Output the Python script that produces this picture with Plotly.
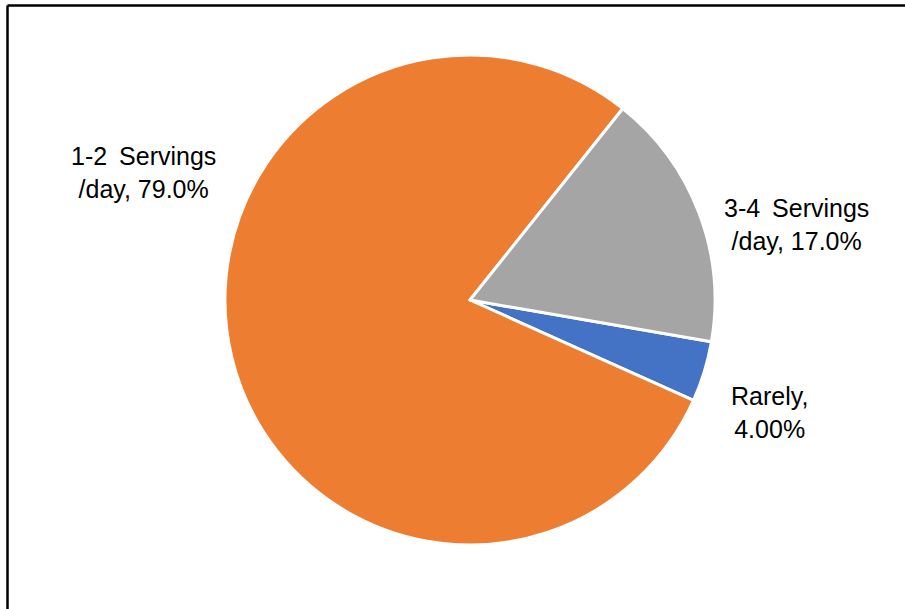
import plotly.graph_objects as go

# ---- data ----
categories = ["Rarely", "1-2 Servings /day", "3-4 Servings /day"]
values = [4.0, 79.0, 17.0]
colors = ["#4472C4", "#ED7D31", "#A5A5A5"]

# label anchor positions (paper coords) for the outside labels
label_pos = {
    "Rarely": (769 / 905, 1 - 413 / 609),
    "1-2 Servings /day": (143 / 905, 1 - 172 / 609),
    "3-4 Servings /day": (796 / 905, 1 - 224 / 609),
}

W, H = 905, 609
cx, cy, r = 470, 300, 245

fig = go.Figure(
    go.Pie(
        labels=categories,
        values=values,
        sort=False,
        direction="clockwise",
        rotation=99.8,
        marker=dict(colors=colors, line=dict(color="white", width=3)),
        textinfo="none",
        hoverinfo="label+percent",
        showlegend=False,
        domain=dict(x=[(cx - r) / W, (cx + r) / W], y=[1 - (cy + r) / H, 1 - (cy - r) / H]),
    )
)

total = sum(values)


def wrap(label, pct):
    if " /" in label:
        a, b = label.split(" /", 1)
        a = a.replace(" ", "\u2009 ")
        return f"{a}<br>/{b}, {pct}%"
    return f"{label},<br>{pct}%"


annotations = []
for lab, v in zip(categories, values):
    pct = format(100 * v / total, "#.3g")
    x, y = label_pos[lab]
    annotations.append(
        dict(
            x=x, y=y, xref="paper", yref="paper",
            text=wrap(lab, pct), showarrow=False,
            xanchor="center", yanchor="middle", align="center",
            font=dict(family="Liberation Sans, Arial, sans-serif", size=25, color="#000000"),
        )
    )

shapes = [
    dict(type="line", xref="paper", yref="paper", x0=7.5 / W, x1=1.0, y0=1 - 5.5 / H, y1=1 - 5.5 / H,
         line=dict(color="#000000", width=2.5)),
    dict(type="line", xref="paper", yref="paper", x0=7.5 / W, x1=7.5 / W, y0=0, y1=1 - 5.5 / H,
         line=dict(color="#000000", width=2.5)),
]

fig.update_layout(
    width=W, height=H,
    margin=dict(l=0, r=0, t=0, b=0),
    paper_bgcolor="white", plot_bgcolor="white",
    annotations=annotations, shapes=shapes,
)

fig.write_html("out.html")
